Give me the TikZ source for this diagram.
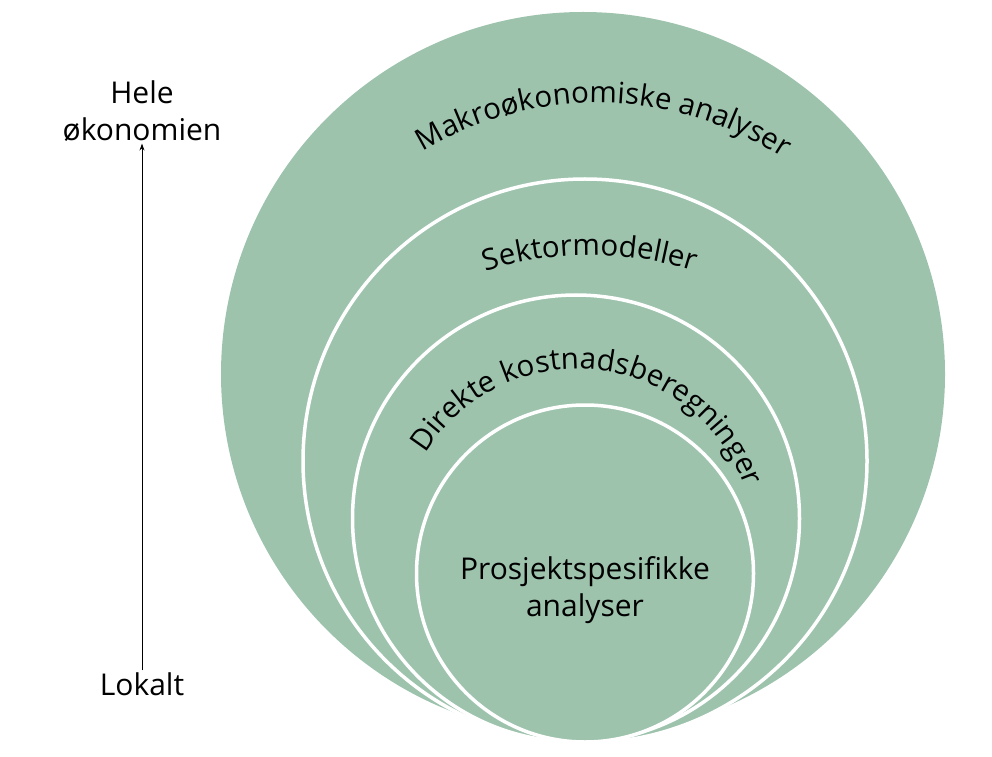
\documentclass[tikz,border=0pt]{standalone}
\usepackage{fontspec}
\setmainfont{Open Sans}
\usetikzlibrary{decorations.text,arrows.meta}
\definecolor{ringgreen}{HTML}{9DC3AD}
\tikzset{
  ring/.style={fill=ringgreen,draw=white,line width=3.5pt},
  lbl/.style={font=\fontsize{30}{37}\selectfont,align=center,text=black,inner sep=2pt},
  arclbl/.style={decorate,decoration={text along path,text align=center,
     text={|\fontsize{29.5}{36}\selectfont|#1}}}
}
\begin{document}
\begin{tikzpicture}[x=1pt,y=1pt]
\useasboundingbox (0,0) rectangle (992,756);
\fill[ringgreen] (583,382) circle (362);
\path[ring] (585,295) circle (282);
\path[ring] (576,237.5) circle (223.5);
\path[ring] (585,182.5) circle (168.5);
\path[arclbl={Makroøkonomiske analyser}] (598,314) ++(124:339) arc (124:54:339);
\path[arclbl={Sektormodeller}] (590,156) ++(110:345) arc (110:70:345);
\path[arclbl={Direkte kostnadsberegninger}] (577,209) ++(160:178) arc (160:8:178);
\node[lbl] (inner) at (585,166) {Prosjektspesifikke\\analyser};
\node[lbl] (top) at (142,645) {Hele\\økonomien};
\node[lbl] (bot) at (142,72) {Lokalt};
\draw[-{Stealth[length=7pt,width=5pt]},line width=0.9pt] (bot.north) -- (top.south);
\end{tikzpicture}
\end{document}
